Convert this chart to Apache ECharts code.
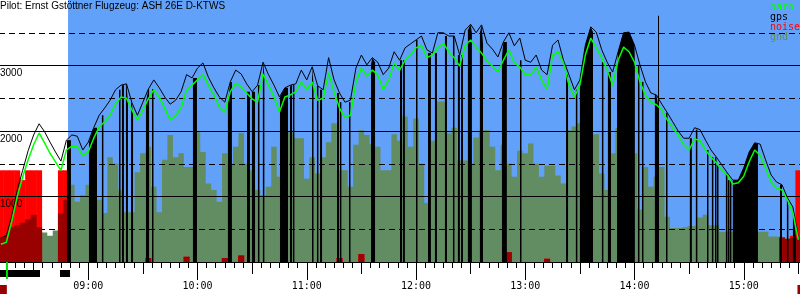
<!DOCTYPE html>
<html>
<head>
<meta charset="utf-8">
<title>Flug</title>
<script src="https://cdn.jsdelivr.net/npm/echarts@6/dist/echarts.min.js"></script>
<style>
html, body { margin: 0; padding: 0; background: #fff; }
#chart { width: 800px; height: 300px; }
</style>
</head>
<body>
<div id="chart"></div>
<script>
var titleText = 'Pilot: Ernst Gstöttner Flugzeug: ASH 26E D-KTWS';

// samples every 3 minutes from 08:12 to 15:30, heights in m
var startMinute = 492;
var stepMinutes = 3;
var gps = [
  370, 400, 700, 1100, 1400, 1700, 1940, 2110, 1990, 1830,
  1680, 1540, 1860, 1940, 1920, 1710, 1830, 2050, 2240, 2350,
  2470, 2630, 2700, 2720, 2430, 2240, 2440, 2640, 2780, 2660,
  2520, 2410, 2470, 2600, 2860, 2810, 2960, 3040, 2820, 2660,
  2520, 2440, 2750, 2930, 2870, 2720, 2600, 2700, 3050, 2860,
  2700, 2520, 2660, 2700, 2720, 2930, 2780, 2980, 2690, 2630,
  3120, 2780, 2580, 2440, 2470, 2960, 3160, 3010, 3120, 3050,
  2860, 2960, 3210, 3080, 3270, 3330, 3390, 3450, 3240, 3190,
  3500, 3500, 3450, 3450, 3160, 3540, 3630, 3500, 3620, 3340,
  3250, 3130, 3360, 3500, 3300, 3420, 3080, 3050, 3160, 2930,
  2860, 3310, 3390, 3080, 2860, 2630, 2780, 3310, 3590, 3510,
  3240, 3050, 2900, 3210, 3500, 3510, 3310, 3010, 2750, 2580,
  2550, 2410, 2280, 2140, 2000, 1890, 1890, 2050, 2020, 1860,
  1710, 1600, 1480, 1360, 1250, 1250, 1440, 1680, 1820, 1800,
  1560, 1330, 1220, 1180, 980, 840, 380
];
var baro = [
  270, 300, 620, 1000, 1300, 1560, 1790, 1970, 1820, 1660,
  1530, 1400, 1710, 1770, 1760, 1620, 1680, 1890, 2060, 2140,
  2240, 2410, 2520, 2500, 2320, 2170, 2320, 2490, 2630, 2520,
  2350, 2170, 2240, 2350, 2630, 2700, 2780, 2860, 2700, 2550,
  2370, 2290, 2600, 2730, 2670, 2580, 2490, 2440, 2870, 2700,
  2520, 2290, 2520, 2550, 2600, 2750, 2630, 2750, 2470, 2500,
  2890, 2600, 2350, 2200, 2240, 2750, 2960, 2840, 2930, 2860,
  2630, 2780, 3040, 2930, 3080, 3160, 3270, 3310, 3120, 3160,
  3270, 3340, 3210, 3120, 2990, 3310, 3390, 3280, 3190, 3070,
  2990, 2900, 3080, 3240, 3040, 2980, 2860, 2860, 2980, 2780,
  2630, 3160, 3210, 3040, 2700, 2520, 2700, 3160, 3420, 3270,
  3120, 2930, 2700, 3080, 3280, 3210, 3050, 2750, 2550, 2440,
  2400, 2320, 2170, 2050, 1940, 1790, 1710, 1880, 1850, 1710,
  1600, 1510, 1400, 1330, 1190, 1210, 1310, 1530, 1710, 1630,
  1440, 1220, 1130, 1100, 950, 750, 340
];
var gnd = [
  380, 400, 530, 560, 600, 650, 720, 530, 450, 400,
  480, 740, 950, 1180, 920, 1020, 1180, 1100, 950, 750,
  1600, 1500, 1100, 760, 760, 1370, 1660, 1760, 1150, 760,
  1560, 1940, 1600, 1660, 1450, 1450, 1990, 1680, 1200, 1100,
  920, 1660, 1500, 1760, 1970, 1500, 1400, 1100, 1020, 1150,
  1760, 1300, 1300, 1980, 1890, 1890, 1270, 1600, 1350, 1600,
  1830, 2120, 1400, 1400, 1150, 1790, 2010, 1940, 1800, 1760,
  1400, 1400, 1950, 1850, 2220, 1760, 2190, 1500, 900, 1850,
  2450, 2450, 1960, 2050, 1550, 1550, 1500, 1900, 2010, 2010,
  1760, 1400, 1790, 1500, 1300, 1700, 1660, 1810, 1500, 1300,
  1470, 1470, 1320, 1200, 2010, 2070, 2120, 2070, 1950, 1950,
  1350, 1100, 1660, 2050, 2010, 1850, 1660, 800, 1450, 1150,
  1300, 1450, 690, 520, 520, 530, 550, 550, 680, 720,
  560, 560, 460, 460, 460, 390, 390, 390, 390, 460,
  460, 390, 390, 370, 370, 370, 370
];
var noise = [
  1400, 1400, 1400, 1400, 1250, 1400, 1400, 1400, 0, 0,
  0, 1400, 1400, 0, 0, 0, 0, 0, 0, 0,
  0, 0, 0, 0, 0, 0, 0, 60, 0, 0,
  0, 0, 0, 0, 80, 0, 0, 0, 0, 0,
  0, 60, 0, 0, 100, 0, 0, 0, 0, 0,
  0, 0, 0, 0, 0, 0, 0, 0, 0, 0,
  0, 0, 60, 0, 0, 0, 120, 0, 0, 0,
  0, 0, 0, 0, 0, 0, 0, 0, 0, 0,
  0, 0, 0, 0, 0, 0, 0, 0, 0, 0,
  0, 0, 0, 150, 0, 0, 0, 0, 0, 0,
  50, 0, 0, 0, 0, 0, 0, 0, 0, 0,
  0, 0, 0, 0, 0, 0, 0, 0, 0, 0,
  0, 0, 0, 0, 0, 0, 0, 0, 0, 0,
  0, 0, 0, 0, 0, 0, 0, 0, 0, 0,
  0, 0, 0, 380, 350, 400, 1400
];

// gps dropouts, minutes after midnight
var dropFrom = [
  528.3, 540.4, 547.5, 556.9, 558.5, 560.7, 563.5, 571.7, 575.0, 597.5,
  616.7, 627.2, 629.9, 630.5, 633.2, 635.9, 645.3, 650.8, 652.4, 662.9,
  665.6, 667.3, 676.6, 678.2, 683.2, 695.3, 711.2, 712.8, 720.0, 726.6,
  730.4, 735.9, 740.3, 743.0, 744.7, 748.5, 755.1, 767.2, 777.1, 802.4,
  807.8, 810.0, 822.1, 825.4, 830.4, 841.9, 844.1, 851.2, 857.3, 870.4,
  873.7, 879.8, 882.5, 884.2, 885.3, 890.2, 891.3, 892.4, 894.0, 919.9,
  923.7, 927.0
];
var dropTo = [
  530.5, 544.8, 548.1, 557.3, 559.6, 561.8, 564.6, 573.4, 575.4, 599.7,
  618.9, 628.8, 630.3, 631.6, 633.6, 636.3, 649.7, 651.9, 653.0, 663.4,
  666.0, 668.4, 677.7, 678.8, 683.7, 697.5, 712.3, 713.9, 720.5, 728.2,
  731.5, 737.0, 740.7, 744.1, 745.8, 750.7, 756.8, 769.9, 777.5, 803.5,
  808.2, 817.2, 822.5, 827.1, 840.2, 842.4, 844.6, 852.9, 857.7, 871.5,
  874.3, 880.3, 882.9, 884.6, 885.9, 890.6, 891.7, 892.8, 907.8, 921.0,
  924.3, 928.6
];

var skyFrom = 528.9;          // soaring part (blue)
var cursorTime = 852.9;       // marker line
var cursorTop = 3760;
var engineFrom = [491.5, 524.5];
var engineTo = [513.5, 530.0];
var launchTime = 494.8;
var flagFrom = [491.5, 929.5];
var flagTo = [495.3, 931.0];

var yLabels = { 1000: '1000', 2000: '2000', 3000: '3000' };

var colSky = '#61a1f9';
var colGnd = '#628c62';
var colBaro = '#00ff00';
var colNoise = '#ff0000';
var colNoiseLow = '#990000';

function pairs(arr) {
  return arr.map(function (v, i) { return [startMinute + i * stepMinutes, v]; });
}
var noiseLow = noise.map(function (v, i) { return Math.min(v, gnd[i]); });

function gpsAt(t) {
  var k = (t - startMinute) / stepMinutes;
  var a = Math.max(0, Math.min(gps.length - 1, Math.floor(k)));
  var b = Math.max(0, Math.min(gps.length - 1, Math.ceil(k)));
  return Math.min(gps[a], gps[b]);
}

var statusRows = [];
for (var i = 0; i < engineFrom.length; i++) statusRows.push([engineFrom[i], engineTo[i], 8, 15, 0]);
statusRows.push([launchTime, launchTime + 1.1, 0, 17, 1]);
for (var j = 0; j < flagFrom.length; j++) statusRows.push([flagFrom[j], flagTo[j], 23, 32, 2]);
var statusColors = ['#000000', '#00dd00', colNoiseLow];

var chart = echarts.init(document.getElementById('chart'), null, { renderer: 'canvas' });

var option = {
  animation: false,
  backgroundColor: '#ffffff',
  title: {
    text: titleText, left: 0, top: 0, padding: [1, 0, 0, 0],
    textStyle: { fontSize: 10, fontWeight: 'normal', color: '#000', fontFamily: 'Liberation Sans' }
  },
  legend: {
    left: 765, top: 2, padding: 0, orient: 'vertical', itemGap: 0,
    itemWidth: 0, itemHeight: 10, icon: 'rect', selectedMode: false,
    textStyle: { fontSize: 10, fontFamily: 'DejaVu Sans Mono' },
    data: [
      { name: 'baro', textStyle: { color: colBaro } },
      { name: 'gps', textStyle: { color: '#000' } },
      { name: 'noise', textStyle: { color: colNoise } },
      { name: 'gnd', textStyle: { color: colGnd } }
    ]
  },
  grid: [
    { left: -21, right: -53, top: 0, bottom: 38, outerBoundsMode: 'none', containLabel: false },
    { left: -21, right: -53, top: 262, height: 32, outerBoundsMode: 'none', containLabel: false }
  ],
  xAxis: [
    {
      type: 'value', gridIndex: 0, min: 480, max: 960, interval: 60, position: 'bottom',
      axisLine: { show: true, lineStyle: { color: '#000', width: 1 } },
      axisTick: { show: true, length: 18, lineStyle: { color: '#000', width: 1 } },
      minorTick: { show: true, splitNumber: 12, length: 6, lineStyle: { color: '#000', width: 1 } },
      splitLine: { show: false },
      axisLabel: {
        margin: 19, color: '#000', fontSize: 10, fontFamily: 'DejaVu Sans Mono',
        formatter: function (v) { var h = Math.floor(v / 60); return (h < 10 ? '0' : '') + h + ':00'; }
      }
    },
    {
      type: 'value', gridIndex: 0, min: 480, max: 960, interval: 30, position: 'bottom',
      axisLine: { show: false },
      axisTick: { show: true, length: 12, lineStyle: { color: '#000', width: 1 } },
      axisLabel: { show: false }, splitLine: { show: false }
    },
    {
      type: 'value', gridIndex: 1, min: 480, max: 960, show: false
    }
  ],
  yAxis: [
    {
      type: 'value', gridIndex: 0, min: 0, max: 4000, interval: 1000, offset: -21, z: 3,
      axisLine: { show: false }, axisTick: { show: false },
      splitLine: { show: true, showMaxLine: false, lineStyle: { color: '#000', width: 1, type: 'solid' } },
      axisLabel: {
        inside: true, margin: 0, align: 'left', verticalAlign: 'top', padding: [3, 0, 0, 0],
        color: '#000', fontSize: 10, fontFamily: 'Liberation Sans',
        formatter: function (v) { return yLabels[v] || ''; }
      }
    },
    {
      type: 'value', gridIndex: 0, min: 0, max: 4000, interval: 500, z: 2,
      axisLine: { show: false }, axisTick: { show: false }, axisLabel: { show: false },
      splitLine: { show: true, showMaxLine: false, lineStyle: { color: '#000', width: 1, type: [6, 4] } }
    },
    {
      type: 'value', gridIndex: 1, min: 0, max: 32, inverse: true, show: false
    }
  ],
  series: [
    {
      name: 'sky', type: 'line', xAxisIndex: 0, yAxisIndex: 0, z: 0,
      data: [[skyFrom, 0]], symbol: 'none', lineStyle: { width: 0 }, silent: true,
      markArea: {
        silent: true, itemStyle: { color: colSky, opacity: 1 },
        data: [[{ xAxis: skyFrom }, { xAxis: 960 }]]
      }
    },
    {
      name: 'gnd', type: 'line', xAxisIndex: 0, yAxisIndex: 0, z: 1,
      step: 'middle', symbol: 'none', data: pairs(gnd),
      itemStyle: { color: colGnd },
      lineStyle: { width: 0 },
      areaStyle: { color: colGnd, opacity: 1 }
    },
    {
      name: 'noise', type: 'bar', xAxisIndex: 0, yAxisIndex: 0, z: 2,
      barWidth: 6, barGap: '-100%', data: pairs(noise),
      itemStyle: { color: colNoise }
    },
    {
      name: 'noiseLow', type: 'bar', xAxisIndex: 0, yAxisIndex: 0, z: 2,
      barWidth: 6, barGap: '-100%', data: pairs(noiseLow),
      itemStyle: { color: colNoiseLow }
    },
    {
      name: 'dropouts', type: 'custom', xAxisIndex: 0, yAxisIndex: 0, z: 4, clip: true,
      data: dropFrom.map(function (f, k) { return [f, dropTo[k]]; }),
      encode: { x: [0, 1], y: 1 },
      renderItem: function (params, api) {
        var t0 = api.value(0), t1 = api.value(1);
        var base = api.coord([t0, 0]);
        var pts = [base, api.coord([t0, gpsAt(t0)])];
        for (var n = 0; n < gps.length; n++) {
          var t = startMinute + n * stepMinutes;
          if (t > t0 && t < t1) pts.push(api.coord([t, gps[n]]));
        }
        var e = api.coord([t1, gpsAt(t1)]);
        if (e[0] - base[0] < 1.5) e[0] = base[0] + 1.5;
        pts.push(e);
        pts.push([e[0], base[1]]);
        return { type: 'polygon', shape: { points: pts }, style: { fill: '#000' } };
      }
    },
    {
      name: 'gps', type: 'line', xAxisIndex: 0, yAxisIndex: 0, z: 5,
      symbol: 'none', data: pairs(gps),
      itemStyle: { color: '#000' },
      lineStyle: { color: '#000', width: 1 },
      markLine: {
        silent: true, symbol: 'none', label: { show: false },
        lineStyle: { color: '#000', width: 1, type: 'solid' },
        data: [[{ coord: [cursorTime, cursorTop] }, { coord: [cursorTime, 0] }]]
      }
    },
    {
      name: 'baro', type: 'line', xAxisIndex: 0, yAxisIndex: 0, z: 6,
      symbol: 'none', data: pairs(baro),
      itemStyle: { color: colBaro },
      lineStyle: { color: colBaro, width: 1.5 }
    },
    {
      name: 'status', type: 'custom', xAxisIndex: 2, yAxisIndex: 2, z: 3,
      data: statusRows, encode: { x: [0, 1], y: [2, 3] },
      renderItem: function (params, api) {
        var a = api.coord([api.value(0), api.value(2)]);
        var b = api.coord([api.value(1), api.value(3)]);
        return {
          type: 'rect',
          shape: { x: a[0], y: a[1], width: Math.max(1.5, b[0] - a[0]), height: b[1] - a[1] },
          style: { fill: statusColors[api.value(4)] }
        };
      }
    }
  ]
};

chart.setOption(option);
</script>
</body>
</html>
